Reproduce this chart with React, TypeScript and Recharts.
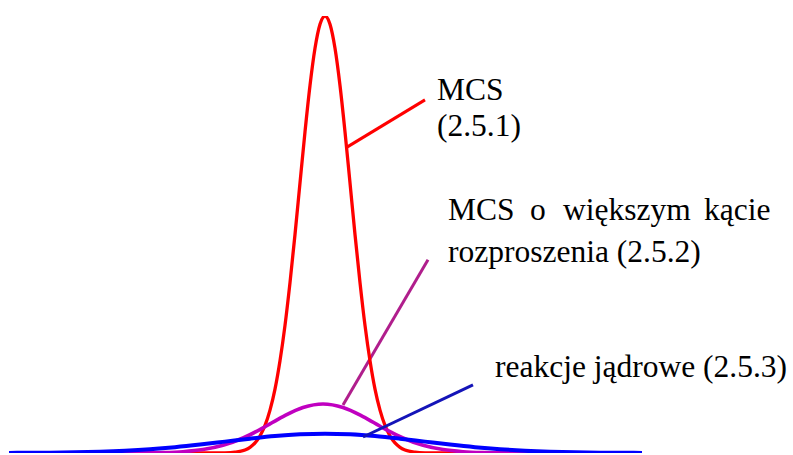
import React from 'react';
import { ComposedChart, Line, XAxis, YAxis, ReferenceLine } from 'recharts';

// Horizontal positions (arbitrary units) and heights (% of the tallest peak)
const redX = [0, 156, 196, 216, 226, 236, 241, 246, 251, 256, 261, 266, 271, 276, 281, 286, 291, 296, 301, 306, 311, 316, 321, 326, 331, 336, 341, 346, 351, 356, 361, 366, 371, 376, 381, 386, 391, 396, 406, 416, 436, 476, 633];
const redY = [0, 0, 0, 0.05, 0.2, 0.7, 1.3, 2.3, 3.9, 6.3, 9.8, 14.6, 21.1, 29.2, 39.0, 50, 61.8, 73.5, 84.1, 92.6, 98.1, 100, 98.1, 92.6, 84.1, 73.5, 61.8, 50, 39.0, 29.2, 21.1, 14.6, 9.8, 6.3, 3.9, 2.3, 1.3, 0.7, 0.2, 0.05, 0, 0, 0];

const purpleX = [0, 114, 134, 154, 174, 194, 214, 234, 254, 274, 294, 314, 334, 354, 374, 394, 414, 434, 454, 474, 494, 514, 633];
const purpleY = [0, 0.01, 0.03, 0.1, 0.3, 0.78, 1.76, 3.43, 5.75, 8.33, 10.4, 11.2, 10.4, 8.33, 5.75, 3.43, 1.76, 0.78, 0.3, 0.1, 0.03, 0.01, 0];

const blueX = [0, 16, 41, 66, 91, 116, 141, 166, 191, 216, 241, 266, 291, 316, 341, 366, 391, 416, 441, 466, 491, 516, 541, 566, 591, 616, 633];
const blueY = [0.02, 0.04, 0.08, 0.16, 0.3, 0.53, 0.87, 1.34, 1.93, 2.6, 3.28, 3.87, 4.27, 4.42, 4.27, 3.87, 3.28, 2.6, 1.93, 1.34, 0.87, 0.53, 0.3, 0.16, 0.08, 0.04, 0.02];

// Leader lines (data coordinates: start on curve, end near label)
const leaderRedX = [338, 416];
const leaderRedY = [70.0, 80.8];
const leaderPurpleX = [334, 419];
const leaderPurpleY = [11.0, 44.2];
const leaderBlueX = [354, 464];
const leaderBlueY = [3.66, 15.6];

const labelMCS1 = ['MCS', '(2.5.1)'];
const labelMCS2Words = ['MCS', 'o', 'większym', 'kącie'];
const labelMCS2Line2 = 'rozproszenia (2.5.2)';
const labelNuclear = 'reakcje jądrowe (2.5.3)';

const zip = (xs: number[], ys: number[]) => xs.map((x, i) => ({ x, y: ys[i] }));

const redData = zip(redX, redY);
const purpleData = zip(purpleX, purpleY);
const blueData = zip(blueX, blueY);

const seg = (xs: number[], ys: number[]) => [
  { x: xs[0], y: ys[0] },
  { x: xs[1], y: ys[1] },
];

const FS = 31.5;
const ASC = 0.891 * FS; // Liberation Serif ascent

// HTML label positioned by its baseline
const Label = ({ x, baseline, children }: { x: number; baseline: number; children: React.ReactNode }) => (
  <div
    style={{
      position: 'absolute',
      left: x,
      top: baseline - ASC,
      fontFamily: "'Liberation Serif', 'Times New Roman', serif",
      fontSize: FS,
      lineHeight: 'normal',
      whiteSpace: 'nowrap',
      color: '#000',
    }}
  >
    {children}
  </div>
);

export default function App() {
  return (
    <div style={{ position: 'absolute', left: 0, top: 0, width: 793, height: 455, background: '#fff' }}>
      <ComposedChart width={793} height={455} margin={{ top: 16, right: 151, bottom: 2, left: 9 }}>
        <XAxis type="number" dataKey="x" domain={[0, 633]} hide allowDataOverflow />
        <YAxis type="number" domain={[0, 100]} hide allowDataOverflow />
        <ReferenceLine segment={seg(leaderPurpleX, leaderPurpleY)} stroke="#B01E8C" strokeWidth={3} />
        <Line data={redData} dataKey="y" type="monotone" stroke="#FF0000" strokeWidth={3.3} dot={false} isAnimationActive={false} />
        <Line data={purpleData} dataKey="y" type="monotone" stroke="#C000C0" strokeWidth={3.6} dot={false} isAnimationActive={false} />
        <Line data={blueData} dataKey="y" type="monotone" stroke="#0000FF" strokeWidth={4} dot={false} isAnimationActive={false} />
        <ReferenceLine segment={seg(leaderRedX, leaderRedY)} stroke="#FF0000" strokeWidth={3} />
        <ReferenceLine segment={seg(leaderBlueX, leaderBlueY)} stroke="#1414B8" strokeWidth={3} />
      </ComposedChart>
      <Label x={437} baseline={100}>{labelMCS1[0]}</Label>
      <Label x={437} baseline={136.5}>{labelMCS1[1]}</Label>
      <Label x={448} baseline={220}>{labelMCS2Words[0]}</Label>
      <Label x={530} baseline={220}>{labelMCS2Words[1]}</Label>
      <Label x={563} baseline={220}>{labelMCS2Words[2]}</Label>
      <Label x={704} baseline={220}>{labelMCS2Words[3]}</Label>
      <Label x={448} baseline={262}>{labelMCS2Line2}</Label>
      <Label x={495} baseline={377}>{labelNuclear}</Label>
    </div>
  );
}
